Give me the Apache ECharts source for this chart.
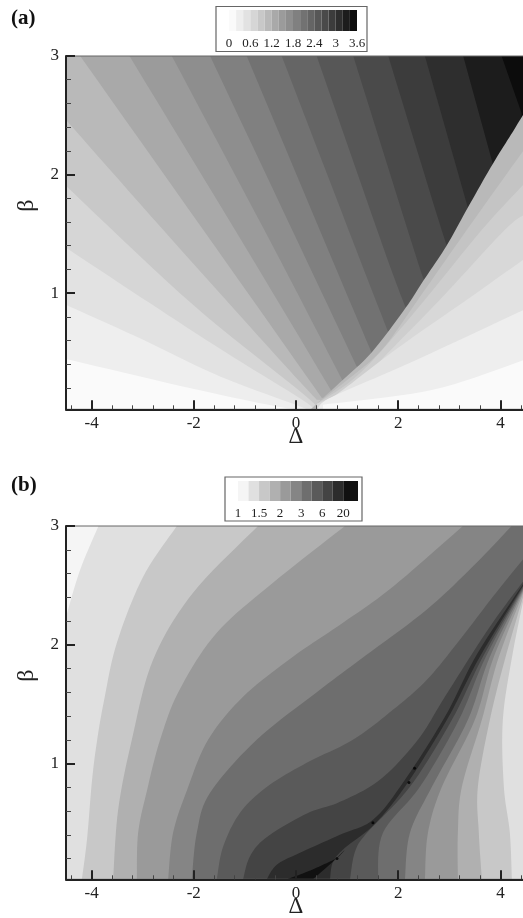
<!DOCTYPE html>
<html>
<head>
<meta charset="utf-8">
<style>html,body{margin:0;padding:0;background:#fff;overflow:hidden}#c{width:523px;height:918px}</style>
<script src="https://cdn.jsdelivr.net/npm/echarts@6/dist/echarts.min.js"></script>
</head>
<body>
<div id="c"></div>
<script>
// ---------- Axis ticks ----------
const deltaMajor = [-4, -2, 0, 2, 4];
const deltaMinor = [-4.4, -3.6, -3.2, -2.8, -2.4, -1.6, -1.2, -0.8, -0.4, 0.4, 0.8, 1.2, 1.6, 2.4, 2.8, 3.2, 3.6, 4.4];
const betaMajor = [1, 2, 3];
const betaMinor = [0.2, 0.4, 0.6, 0.8, 1.2, 1.4, 1.6, 1.8, 2.2, 2.4, 2.6, 2.8];

// ---------- Panel (a): legend levels ----------
const aLevels = [0, 0.2, 0.4, 0.6, 0.8, 1, 1.2, 1.4, 1.6, 1.8, 2, 2.2, 2.4, 2.6, 2.8, 3, 3.2, 3.4, 3.6];
const aLevelTicks = [0, 0.6, 1.2, 1.8, 2.4, 3, 3.6];
const aGreys = ['#fafafa','#eeeeee','#e2e2e2','#d6d6d6','#c8c8c8','#b9b9b9','#a9a9a9','#9b9b9b','#8e8e8e','#808080','#727272','#656565','#575757','#4a4a4a','#3c3c3c','#2e2e2e','#1c1c1c','#0c0c0c'];

// Panel (a): contour lines left of the ridge, light to dark, as [delta, beta]
const aC01 = [[-4.5,0.444],[-2.014,0.193],[-0.377,0.044],[0.078,0.02]];
const aC02 = [[-4.5,0.901],[-2.99,0.606],[-1.486,0.297],[0.078,0.044],[0.137,0.02]];
const aC03 = [[-4.5,1.382],[-2.66,0.859],[-1.355,0.494],[0.209,0.075],[0.235,0.02]];
const aC04 = [[-4.5,1.904],[-2.014,0.901],[0.274,0.101],[0.313,0.02]];
const aC05 = [[-4.5,2.461],[-2.6,1.534],[-0.377,0.466],[0.405,0.101]];
const aC06 = [[-4.223,3],[-1.584,1.393],[0.502,0.118]];
const aC07 = [[-3.259,3],[-0.997,1.393],[0.698,0.171]];
const aC08 = [[-2.43,3],[-0.45,1.393],[0.919,0.255]];
const aC09 = [[-1.681,3],[0.078,1.393],[1.187,0.381]];
const aC10 = [[-0.964,3],[0.6,1.393],[1.48,0.497]];
const aC11 = [[-0.28,3],[1.153,1.393],[1.799,0.676]];
const aC12 = [[0.405,3],[1.701,1.393],[2.145,0.876]];
const aC13 = [[1.12,3],[2.287,1.393],[2.502,1.112]];
const aC14 = [[1.805,3],[2.848,1.534],[2.972,1.407]];
const aC15 = [[2.522,3],[3.363,1.719]];
const aC16 = [[3.271,3],[3.851,2.09]];
const aC17 = [[4.022,3],[4.413,2.52]];
const aLeft = [aC01,aC02,aC03,aC04,aC05,aC06,aC07,aC08,aC09,aC10,aC11,aC12,aC13,aC14,aC15,aC16,aC17];

// Panel (a): the ridge and the contours right of it, dark to light
const aRidge = [[0.29,0.02],[0.405,0.067],[0.92,0.27],[1.48,0.5],[2.145,0.876],[2.5,1.11],[2.946,1.4],[3.36,1.72],[3.85,2.09],[4.24,2.36],[4.5,2.545]];
const aR6 = [[0.405,0.067],[1.056,0.286],[1.681,0.522],[2.385,0.944],[3.343,1.534],[4.5,2.233]];
const aR5 = [[0.405,0.067],[1.056,0.252],[1.642,0.5],[2.522,0.944],[3.636,1.534],[4.5,1.939]];
const aR4 = [[0.405,0.067],[1.212,0.227],[1.74,0.47],[2.815,0.944],[4.086,1.534],[4.5,1.668]];
const aR3 = [[0.47,0.05],[0.919,0.185],[2.033,0.55],[3.343,0.944],[4.5,1.298]];
const aR2 = [[0.43,0.033],[0.723,0.129],[2.287,0.423],[4.5,0.868]];
const aR1 = [[0.528,0.059],[2.678,0.185],[4.5,0.442]];
const aRight = [aRidge,aR6,aR5,aR4,aR3,aR2,aR1];
const aRightGreys = ['#b9b9b9','#c4c4c4','#cecece','#d8d8d8','#e2e2e2','#eeeeee','#fafafa'];

// ---------- Panel (b) ----------
const bLegendPositions = [0, 2, 4, 6, 8, 10];
const bLegendLabels = ['1', '1.5', '2', '3', '6', '20'];
const bGreys = ['#f5f5f5','#e0e0e0','#c8c8c8','#b0b0b0','#9a9a9a','#858585','#6e6e6e','#5a5a5a','#444444','#2c2c2c','#111111'];

// Panel (b): left edge of each band, from its upper end to its lower end
const bL01 = [[-3.865,3],[-4.223,2.632],[-4.5,2.236]];
const bL02 = [[-2.332,3],[-2.991,2.573],[-3.505,2.017],[-3.753,1.537],[-3.89,1.2],[-3.99,0.863],[-4.09,0.358],[-4.19,0.025]];
const bL03 = [[-0.743,3],[-2.014,2.438],[-2.796,1.874],[-3.212,1.2],[-3.48,0.61],[-3.578,0.025]];
const bL04 = [[0.958,3],[-0.45,2.522],[-1.55,2.101],[-2.28,1.62],[-2.659,1.2],[-2.913,0.778],[-3.089,0.416],[-3.114,0.025]];
const bL05 = [[3.265,3],[1.896,2.489],[0.919,2.185],[-0.059,1.899],[-1.036,1.562],[-1.72,1.2],[-2.131,0.778],[-2.405,0.416],[-2.502,0.025]];
const bL06 = [[4.217,3],[3.533,2.691],[2.555,2.295],[1.251,1.874],[0.469,1.621],[-0.768,1.2],[-1.681,0.753],[-1.941,0.416],[-2.039,0.025]];
const bL07 = [[4.5,2.75],[3.851,2.404],[3.206,2.042],[2.561,1.705],[1.896,1.452],[1.114,1.2],[0.209,1.006],[-0.567,0.804],[-1.095,0.585],[-1.427,0.299],[-1.55,0.025]];
const bL08 = [[4.5,2.564],[3.793,2.152],[2.913,1.562],[2.385,1.2],[1.642,0.863],[0.86,0.677],[0.215,0.58],[-0.567,0.382],[-0.899,0.22],[-1.036,0.025]];
const bL09 = [[4.5,2.547],[3.558,1.933],[2.913,1.393],[2.092,0.838],[1.505,0.526],[0.86,0.4],[0.078,0.248],[-0.371,0.15],[-0.573,0.025]];
const bL10 = [[0.958,0.273],[0.802,0.206],[0.528,0.147],[0.215,0.088],[-0.176,0.025]];

// Panel (b): right edge of each band, from its lower end to its upper end
const bR01 = [[-4.5,0.025],[4.5,0.025]];
const bR02 = [[4.223,0.025],[4.184,0.416],[4.067,0.804],[4.047,1.368],[4.242,1.933],[4.5,2.48]];
const bR03 = [[3.636,0.025],[3.577,0.416],[3.558,0.804],[3.793,1.368],[4.086,1.874],[4.5,2.489]];
const bR04 = [[3.167,0.025],[3.167,0.416],[3.245,0.804],[3.636,1.368],[3.969,1.899],[4.5,2.497]];
const bR05 = [[2.522,0.025],[2.581,0.416],[2.854,0.804],[3.499,1.368],[3.871,1.899],[4.5,2.505]];
const bR06 = [[2.131,0.025],[2.229,0.416],[2.659,0.804],[3.363,1.368],[3.793,1.899],[4.5,2.514]];
const bR07 = [[1.603,0.025],[1.701,0.416],[2.424,0.804],[3.187,1.368],[3.714,1.899],[4.5,2.522]];
const bR08 = [[1.056,0.025],[1.153,0.256],[1.388,0.416],[2.229,0.804],[3.05,1.368],[3.656,1.899],[4.5,2.531]];
const bR09 = [[0.665,0.025],[0.723,0.172],[0.958,0.29],[1.525,0.484],[2.131,0.804],[2.952,1.368],[3.597,1.899],[4.5,2.539]];
const bR10 = [[0.332,0.025],[0.723,0.172]];
const bLeft = [bL01,bL02,bL03,bL04,bL05,bL06,bL07,bL08,bL09,bL10];
const bRight = [bR01,bR02,bR03,bR04,bR05,bR06,bR07,bR08,bR09,bR10];
const bDots = [[1.505,0.502],[2.21,0.84],[2.32,0.96],[0.802,0.2]];

// ---------- Axis ranges ----------
const xMin = -4.5, xMax = 4.5, yMax = 3, aYMin = 0.02, bYMin = 0.025;

// ---------- Polygons built from the arrays: smooth curves + straight corners ----------
function aPolygons() {
  const out = [{ curves: [], corners: [[xMin,aYMin],[xMax,aYMin],[xMax,yMax],[xMin,yMax]], fill: aGreys[0] }];
  aLeft.forEach((c, i) => {
    const corners = [[xMax,aYMin],[xMax,yMax]];
    if (c[0][0] === xMin) corners.push([xMin,yMax]);
    out.push({ curves: [c], corners, fill: aGreys[i + 1] });
  });
  aRight.forEach((c, i) => {
    out.push({ curves: [c], corners: [[xMax,aYMin],[c[0][0],aYMin]], fill: aRightGreys[i] });
  });
  return out;
}
function bPolygons() {
  const out = [{ curves: [], corners: [[xMin,bYMin],[xMax,bYMin],[xMax,yMax],[xMin,yMax]], fill: bGreys[0] }];
  bLeft.forEach((c, i) => {
    const r = bRight[i];
    const corners = r[r.length - 1][0] === xMax ? [[xMax,yMax]] : [];
    out.push({ curves: [c, r], corners, fill: bGreys[i + 1] });
  });
  return out;
}
// Curve drawing only: rounds a polyline through its read points on screen.
function rounded(p) {
  if (p.length < 3) return p;
  const out = [];
  for (let i = 0; i < p.length - 1; i++) {
    const a = p[Math.max(i - 1, 0)], b = p[i], c = p[i + 1], d = p[Math.min(i + 2, p.length - 1)];
    for (let s = 0; s < 10; s++) {
      const t = s / 10, t2 = t * t, t3 = t2 * t;
      out.push([0, 1].map(k => 0.5 * (2 * b[k] + (c[k] - a[k]) * t + (2 * a[k] - 5 * b[k] + 4 * c[k] - d[k]) * t2 + (3 * b[k] - a[k] - 3 * c[k] + d[k]) * t3)));
    }
  }
  out.push(p[p.length - 1]);
  return out;
}

const serif = '"Liberation Serif", "Times New Roman", serif';
const ink = '#222';

function polySeries(polys, xi, yi) {
  return {
    type: 'custom', xAxisIndex: xi, yAxisIndex: yi, clip: true, silent: true,
    coordinateSystem: 'cartesian2d',
    data: polys.map((p, i) => [i]),
    encode: { x: -1, y: -1 },
    renderItem: (params, api) => {
      const p = polys[api.value(0)];
      let pts = [];
      p.curves.forEach(c => { pts = pts.concat(rounded(c.map(q => api.coord(q)))); });
      pts = pts.concat(p.corners.map(q => api.coord(q)));
      return { type: 'polygon', shape: { points: pts }, style: { fill: p.fill } };
    }
  };
}
function stripSeries(edges, greys, xi, yi) {
  return {
    type: 'custom', xAxisIndex: xi, yAxisIndex: yi, clip: true, silent: true,
    coordinateSystem: 'cartesian2d',
    data: greys.map((g, i) => [edges[i], edges[i + 1], i]),
    encode: { x: [0, 1] },
    renderItem: (params, api) => {
      const a = api.coord([api.value(0), 1]), b = api.coord([api.value(1), 0]);
      return { type: 'rect', shape: { x: a[0], y: a[1], width: b[0] - a[0], height: b[1] - a[1] }, style: { fill: greys[api.value(2)] } };
    }
  };
}
function mainX(grid) {
  return {
    type: 'value', gridIndex: grid, min: xMin, max: xMax, position: 'bottom', z: 6,
    name: 'Δ', nameLocation: 'middle', nameGap: 16, nameMoveOverlap: false,
    nameTextStyle: { fontFamily: serif, fontSize: 23, color: ink },
    splitLine: { show: false },
    axisLine: { onZero: false, lineStyle: { color: ink, width: 2 } },
    axisTick: { inside: true, length: 9, customValues: deltaMajor, lineStyle: { color: ink, width: 2 } },
    axisLabel: { customValues: deltaMajor, margin: 6, fontFamily: serif, fontSize: 17, color: ink }
  };
}
function mainY(grid, yMin) {
  return {
    type: 'value', gridIndex: grid, min: yMin, max: yMax, position: 'left', z: 6,
    name: 'β', nameLocation: 'middle', nameRotate: 90, nameGap: 27, nameMoveOverlap: false,
    nameTextStyle: { fontFamily: serif, fontSize: 24, color: ink, padding: [0, 0, 0, 54] },
    splitLine: { show: false },
    axisLine: { onZero: false, lineStyle: { color: ink, width: 2 } },
    axisTick: { inside: true, length: 9, customValues: betaMajor, lineStyle: { color: ink, width: 2 } },
    axisLabel: { customValues: betaMajor, margin: 7, fontFamily: serif, fontSize: 17, color: ink }
  };
}
function minorX(grid) {
  return {
    type: 'value', gridIndex: grid, min: xMin, max: xMax, position: 'bottom', z: 6,
    splitLine: { show: false }, axisLine: { show: false, onZero: false }, axisLabel: { show: false },
    axisTick: { inside: true, length: 4, customValues: deltaMinor, lineStyle: { color: '#444', width: 1 } }
  };
}
function minorY(grid, yMin) {
  return {
    type: 'value', gridIndex: grid, min: yMin, max: yMax, position: 'left', z: 6,
    splitLine: { show: false }, axisLine: { show: false, onZero: false }, axisLabel: { show: false },
    axisTick: { inside: true, length: 5, customValues: betaMinor, lineStyle: { color: '#444', width: 1 } }
  };
}
function hiddenY(grid) {
  return { type: 'value', gridIndex: grid, min: 0, max: 1, show: false };
}
function box(x, y, w, h) {
  return { type: 'rect', silent: true, z: -1, shape: { x, y, width: w, height: h },
    style: { fill: '#fff', stroke: '#666', lineWidth: 1.2 } };
}
const free = { outerBoundsMode: 'none' };

const chart = echarts.init(document.getElementById('c'), null, { renderer: 'canvas', width: 523, height: 918 });
chart.setOption({
  animation: false,
  backgroundColor: '#fff',
  title: [
    { text: '(a)', left: 11, top: 8, padding: 0, textStyle: { fontFamily: serif, fontSize: 21, fontWeight: 'bold', color: '#111' } },
    { text: '(b)', left: 11, top: 475, padding: 0, textStyle: { fontFamily: serif, fontSize: 21, fontWeight: 'bold', color: '#111' } }
  ],
  graphic: [box(216, 6.5, 151, 45), box(225, 477, 137, 44)],
  grid: [
    { left: 66, top: 56, width: 460, height: 353.3, ...free },
    { left: 66, top: 56, width: 460, height: 353.3, show: true, z: 5, backgroundColor: 'transparent', borderColor: '#666', borderWidth: 1, ...free },
    { left: 66, top: 526, width: 460, height: 353.3, ...free },
    { left: 66, top: 526, width: 460, height: 353.3, show: true, z: 5, backgroundColor: 'transparent', borderColor: '#666', borderWidth: 1, ...free },
    { left: 229, top: 10, width: 128, height: 21, z: 3, ...free },
    { left: 238, top: 481, width: 120, height: 20, z: 3, ...free }
  ],
  xAxis: [
    mainX(0), minorX(1), mainX(2), minorX(3),
    { type: 'value', gridIndex: 4, min: 0, max: 3.6, z: 4, splitLine: { show: false }, axisLine: { show: false }, axisTick: { show: false },
      axisLabel: { customValues: aLevelTicks, margin: 6, fontFamily: serif, fontSize: 13, color: ink } },
    { type: 'value', gridIndex: 5, min: 0, max: 11.4, z: 4, splitLine: { show: false }, axisLine: { show: false }, axisTick: { show: false },
      axisLabel: { customValues: bLegendPositions, margin: 6, fontFamily: serif, fontSize: 13, color: ink,
        formatter: v => bLegendLabels[bLegendPositions.indexOf(v)] } }
  ],
  yAxis: [
    mainY(0, aYMin), minorY(1, aYMin), mainY(2, bYMin), minorY(3, bYMin), hiddenY(4), hiddenY(5)
  ],
  series: [
    polySeries(aPolygons(), 0, 0),
    polySeries(bPolygons(), 2, 2),
    { type: 'scatter', xAxisIndex: 2, yAxisIndex: 2, silent: true, z: 3, data: bDots, symbolSize: 3, itemStyle: { color: '#000' } },
    stripSeries(aLevels, aGreys, 4, 4),
    stripSeries([0,1,2,3,4,5,6,7,8,9,10,11.4], bGreys, 5, 5)
  ]
});
</script>
</body>
</html>
